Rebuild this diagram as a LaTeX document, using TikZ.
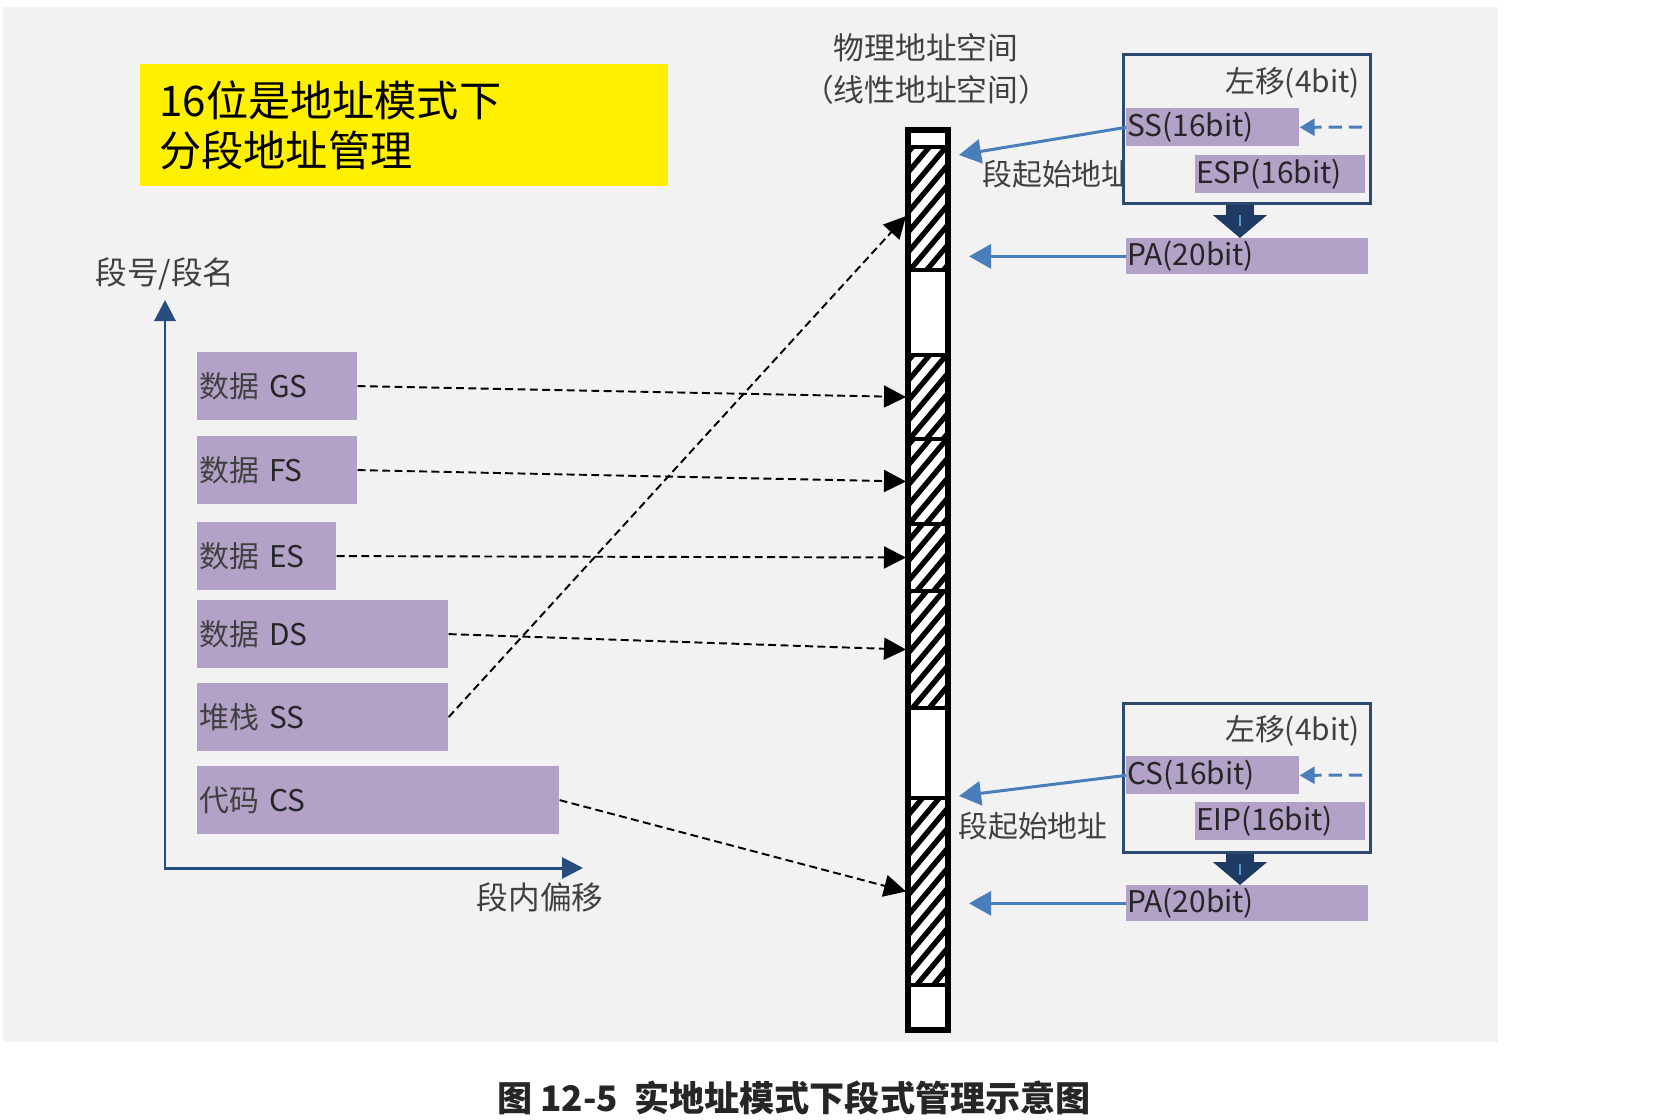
\documentclass[tikz,border=0pt]{standalone}
\usepackage{fontspec}
\setmainfont{Noto Sans CJK SC}
\usepackage{xcolor}
\usetikzlibrary{arrows.meta,positioning,calc}

\definecolor{bggray}{HTML}{F2F2F2}
\definecolor{segpurple}{HTML}{B3A2C7}
\definecolor{notebg}{HTML}{FFF000}
\definecolor{axisblue}{HTML}{264D7E}
\definecolor{regblue}{HTML}{2C4A70}
\definecolor{linkblue}{HTML}{4A7EBB}
\definecolor{downblue}{HTML}{1F3B63}
\definecolor{hiblue}{HTML}{5B9BD5}
\definecolor{labgray}{HTML}{404040}

\begin{document}
\begin{tikzpicture}[
  x=0.02cm, y=-0.02cm,
  lab/.style={font=\fontsize{17}{21}\selectfont, text=labgray, inner sep=0pt},
  note/.style={fill=notebg, anchor=north west, minimum width=10.56cm, minimum height=2.44cm,
    inner xsep=0.38cm, text width=9.8cm, align=left, font=\fontsize{24}{28.5}\selectfont},
  seg/.style={fill=segpurple, anchor=north west, inner sep=0.04cm, minimum height=1.35cm,
    text width=#1, align=left, font=\fontsize{17}{21}\selectfont, text=black!85},
  reg/.style={fill=segpurple, anchor=north west, inner sep=0.02cm, minimum height=0.76cm,
    text width=#1, align=left, font=\fontsize{17}{21}\selectfont, text=black!85},
  regbox/.style={draw=regblue, line width=1.7pt, fill=bggray, anchor=north west,
    minimum width=4.94cm, minimum height=2.98cm, inner sep=0pt},
  memw/.style={draw, line width=2.3pt, fill=white, minimum width=0.8cm, inner sep=0pt},
  memh/.style={memw, path picture={
    \foreach \k in {-8,...,8}
      \draw[line width=3pt] ([yshift=\k*0.4cm]path picture bounding box.center)
        ++(230:1.2cm) -- ++(50:2.4cm);}},
  axisarr/.style={axisblue, line width=1.7pt,
    {Triangle[length=0.42cm,width=0.42cm]}-{Triangle[length=0.42cm,width=0.42cm]}},
  map/.style={black, line width=1.1pt, dash pattern=on 4.5pt off 2.5pt,
    -{Triangle[length=0.44cm,width=0.44cm]}},
  link/.style={linkblue, line width=1.7pt, -{Triangle[length=0.44cm,width=0.48cm]}},
  inarr/.style={linkblue, line width=1.7pt, dash pattern=on 7.5pt off 4pt,
    -{Triangle[length=0.3cm,width=0.34cm]}},
  bigarr/.style={downblue, line width=0.56cm, -{Triangle[length=0.46cm,width=1.06cm]}}
]
\useasboundingbox (0,0) rectangle (1663,1119);
\fill[bggray] (3,7) rectangle (1498,1042);

\node[note] (title) at (140,64) {16位是地址模式下\\分段地址管理};

\coordinate (o) at (165,868);
\coordinate (ytip) at (165,300);
\coordinate (xtip) at (583,868);
\draw[axisarr] (ytip) -- (o) -- (xtip);
\node[lab, font=\fontsize{18}{22}\selectfont, above=0.18cm of ytip] (ylab) {段号/段名};
\node[lab, font=\fontsize{18}{22}\selectfont] (xlab) at (540,897) {段内偏移};

\node[seg=3.12cm] (gs) at (197,352) {\textcolor{labgray}{数据} GS};
\node[seg=3.12cm] (fs) at (197,436) {\textcolor{labgray}{数据} FS};
\node[seg=2.70cm] (es) at (197,522) {\textcolor{labgray}{数据} ES};
\node[seg=4.94cm] (ds) at (197,600) {\textcolor{labgray}{数据} DS};
\node[seg=4.94cm] (ss) at (197,683) {\textcolor{labgray}{堆栈} SS};
\node[seg=7.16cm] (cs) at (197,766) {\textcolor{labgray}{代码} CS};

\node[lab, align=center, font=\fontsize{17.5}{23.8}\selectfont] (phys) at (926,69)
  {物理地址空间\\（线性地址空间）};

\node[memw, minimum height=0.34cm] (c0) at (928,138.5) {};
\node[memh, minimum height=2.46cm] (c1) at (928,208.5) {};
\node[memw, minimum height=1.70cm] (c2) at (928,312.5) {};
\node[memh, minimum height=1.68cm] (c3) at (928,397) {};
\node[memh, minimum height=1.70cm] (c4) at (928,481.5) {};
\node[memh, minimum height=1.34cm] (c5) at (928,557.5) {};
\node[memh, minimum height=2.34cm] (c6) at (928,649.5) {};
\node[memw, minimum height=1.80cm] (c7) at (928,753) {};
\node[memh, minimum height=3.74cm] (c8) at (928,891.5) {};
\node[memw, minimum height=0.90cm] (c9) at (928,1007.5) {};
\node[draw, line width=3.4pt, minimum width=0.8cm, minimum height=18cm, inner sep=0pt] (mem) at (928,580) {};

\draw[map] (gs.east) -- (c3.west);
\draw[map] (fs.east) -- (c4.west);
\draw[map] (es.east) -- (c5.west);
\draw[map] (ds.east) -- (c6.west);
\draw[map] (ss.east) -- ([yshift=-0.15cm]c1.west);
\draw[map] (cs.east) -- (c8.west);

\node[lab, anchor=west] (st1) at (982,174) {段起始地址};
\node[regbox] (regt) at (1122,53) {};
\node[lab, anchor=east] (sh1) at (1360,83) {左移(4bit)};
\node[reg=3.42cm] (ss16) at (1126,108) {SS(16bit)};
\node[reg=3.36cm] (esp) at (1195,155) {ESP(16bit)};
\node[reg=4.80cm, minimum height=0.72cm] (pa1) at (1126,238) {PA(20bit)};
\coordinate (sin1) at (1362,127);
\coordinate (pt1) at ([xshift=0.38cm]c1.east);
\draw[inarr] (sin1) -- (ss16.east);
\draw[link] (ss16.west) -- ([xshift=0.18cm,yshift=-0.2cm]c1.north east);
\draw[link] (pa1.west) -- (pt1 |- pa1.west);
\coordinate (d1) at ([xshift=-0.14cm]regt.south);
\draw[bigarr] (d1) -- (d1 |- pa1.north);
\draw[hiblue, line width=1.6pt] ([yshift=-0.2cm]d1) -- ([yshift=-0.42cm]d1);

\node[lab, anchor=west] (st2) at (958,826) {段起始地址};
\node[regbox] (regb) at (1122,702) {};
\node[lab, anchor=east] (sh2) at (1360,731) {左移(4bit)};
\node[reg=3.42cm] (cs16) at (1126,756) {CS(16bit)};
\node[reg=3.36cm] (eip) at (1195,802) {EIP(16bit)};
\node[reg=4.80cm, minimum height=0.72cm] (pa2) at (1126,885) {PA(20bit)};
\coordinate (sin2) at (1362,775);
\draw[inarr] (sin2) -- (cs16.east);
\draw[link] (cs16.west) -- ([xshift=0.18cm]c8.north east);
\draw[link] (pa2.west) -- (pt1 |- pa2.west);
\coordinate (d2) at ([xshift=-0.14cm]regb.south);
\draw[bigarr] (d2) -- (d2 |- pa2.north);
\draw[hiblue, line width=1.6pt] ([yshift=-0.2cm]d2) -- ([yshift=-0.42cm]d2);

\node[font=\fontsize{20}{24}\selectfont\bfseries, text=black!85] (cap) at (794,1098)
  {图 12-5\ \ 实地址模式下段式管理示意图};
\end{tikzpicture}
\end{document}
